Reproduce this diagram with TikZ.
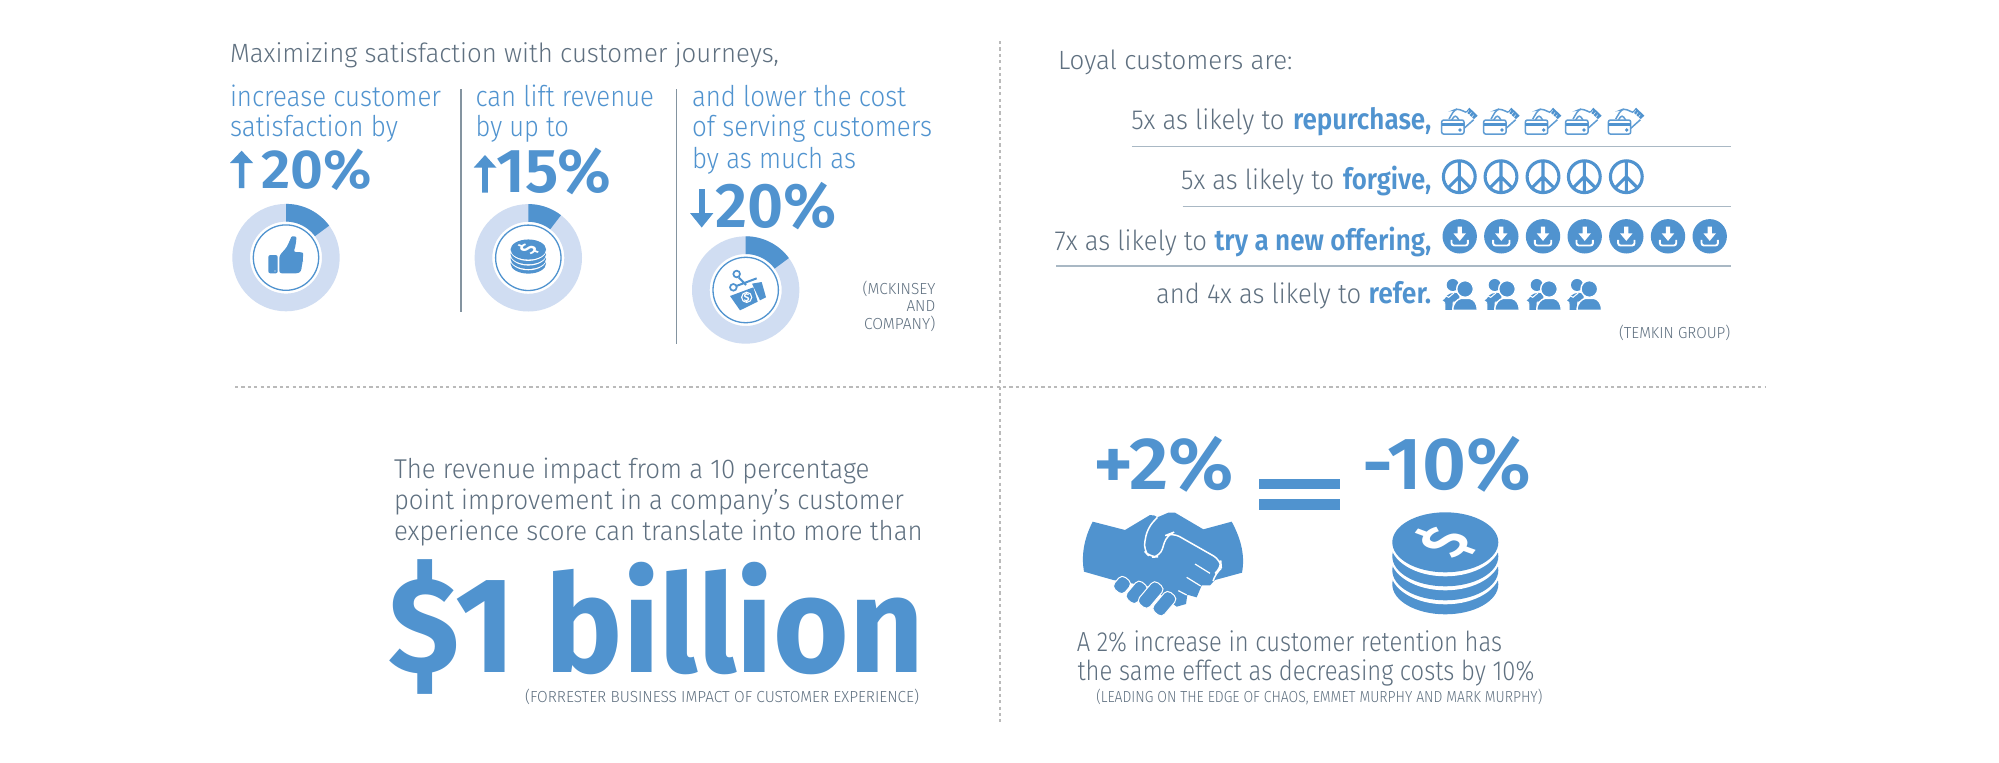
\documentclass[tikz,border=0pt]{standalone}
\usepackage{fontspec}
\usepackage{graphicx}
\setmainfont{Fira Sans}
\newfontfamily\fl{Fira Sans Light}
\newfontfamily\fb{Fira Sans Bold}
\newfontfamily\fs{Fira Sans SemiBold}
\definecolor{blu}{HTML}{5093CF}
\definecolor{lite}{HTML}{D0DDF2}
\definecolor{gry}{HTML}{5F7080}
\definecolor{rule}{HTML}{A9B8C4}
\definecolor{sepc}{HTML}{8494A0}
\definecolor{cardc}{HTML}{5F9CD3}
\tikzset{
  lab/.style={anchor=base west,inner sep=0pt,outer sep=0pt},
  dashrule/.style={draw=black!27,line width=.9pt,dash pattern=on 1.6pt off 1.6pt},
  seprule/.style={draw=sepc,line width=.75pt},
  hrule/.style={draw=rule,line width=.7pt},
}
% name, x-left, x-right, baseline, font, size(pt), colour, text
\newcommand\tb[8]{%
  \pgfmathsetlengthmacro\tw{(#3-#2)*0.5pt}%
  \node[lab,text=#7,font=#5\fontsize{#6}{#6}\selectfont] (#1) at (#2,#4) {\resizebox{\tw}{\height}{#8}};}
% ring: cx cy angle
\newcommand\ring[3]{%
  \begin{scope}[shift={(#1,#2)}]
    \fill[lite,even odd rule] (0,0) circle[radius=53.7] (0,0) circle[radius=36];
    \fill[blu] plot[domain=0:#3,samples=24] ({53.7*sin(\x)},{-53.7*cos(\x)}) -- plot[domain=#3:0,samples=24] ({36*sin(\x)},{-36*cos(\x)}) -- cycle;
    \draw[blu,line width=.65pt] (0,0) circle[radius=32.7];
  \end{scope}}
% coins: centre of top ellipse, scale
\newcommand\coins[3]{%
  \begin{scope}[shift={(#1,#2)},scale=#3]
    \fill[blu] (0,42) ellipse[x radius=53,y radius=30];
    \fill[white] (0,28) ellipse[x radius=55,y radius=34];
    \fill[blu] (0,28) ellipse[x radius=53,y radius=30];
    \fill[white] (0,14) ellipse[x radius=55,y radius=34];
    \fill[blu] (0,14) ellipse[x radius=53,y radius=30];
    \fill[white] (0,0) ellipse[x radius=55,y radius=34];
    \fill[blu] (0,0) ellipse[x radius=53,y radius=30];
  \end{scope}}
\newcommand\peace[2]{%
  \begin{scope}[shift={(#1,#2)}]
    \draw[blu,line width=1.55pt] (0,0) circle[radius=15.9] (0,-15.9) -- (0,15.9) (0,0) -- (-11.2,11.2) (0,0) -- (11.2,11.2);
  \end{scope}}
\newcommand\dload[2]{%
  \begin{scope}[shift={(#1,#2)}]
    \fill[blu] (0,0) circle[radius=17.2];
    \fill[white] (-2.1,-9.8) -- (2.1,-9.8) -- (2.1,-3) -- (6.3,-3) -- (0,4.6) -- (-6.3,-3) -- (-2.1,-3) -- cycle;
    \draw[white,line width=.95pt,rounded corners=1.2pt] (-8.2,3.6) -- (-8.2,9.2) -- (8.2,9.2) -- (8.2,3.6);
  \end{scope}}
\newcommand\card[1]{%
  \begin{scope}[shift={(#1,107.7)},x=0.16667pt,y=-0.16667pt]
    \draw[cardc,line width=.75pt,rounded corners=1pt] (2,37) rectangle (69,79);
    \fill[blu] (2,47) rectangle (69,56);
    \fill[blu] (57,67) circle[radius=5.5];
    \draw[cardc,line width=.75pt,rounded corners=1.5pt] (32,37) -- (43,21) -- (54,37) (24,34) -- (40,7) -- (50,3) -- (76,14) (69,62) -- (98,36);
    \fill[blu] (75,12) -- (85,0) -- (110,24) -- (99,34) -- cycle;
    \draw[white,line width=.2pt] (84,8) -- (76,18) (91,14) -- (83,24) (98,21) -- (90,31);
  \end{scope}}
\newcommand\people[1]{%
  \begin{scope}[shift={(#1,278.3)},x=0.16667pt,y=-0.16667pt]
    \fill[blu] (30,20) circle[radius=18];
    \fill[blu] (6,62) .. controls (12,46) and (30,40) .. (50,46) -- (50,70) -- (30,70) -- (30,95) -- (18,95) -- (18,75) -- (6,75) -- (18,60) -- cycle;
    \fill[blu] (0,66) -- (16,55) -- (32,72) -- (24,72) -- (24,95) -- (8,95) -- (8,72) -- cycle;
    \draw[white,line width=.5pt] (4,50) -- (18,57) -- (34,44);
    \draw[white,line width=.7pt,fill=blu] (67,32) circle[radius=25];
    \draw[white,line width=.7pt,fill=blu] (30,96) .. controls (30,74) and (44,62) .. (56,60) -- (80,60) .. controls (94,62) and (104,76) .. (104,96) -- cycle;
  \end{scope}}
\newcommand\finger[3]{%
  \begin{scope}[shift={(#1,#2)},rotate=50]
    \draw[white,line width=.5pt,fill=blu,rounded corners=2.4pt] (-#3,-21) rectangle (#3,21);
  \end{scope}}
\begin{document}
\begin{tikzpicture}[x=0.5pt,y=-0.5pt]
\useasboundingbox (0,0) rectangle (1999,762);
\fill[white] (0,0) rectangle (1999,762);
% dividers
\draw[dashrule] (235,386.7) -- (1765,386.7);
\draw[dashrule] (1000,41) -- (1000,721.5);
\draw[seprule] (461,89) -- (461,312);
\draw[seprule] (676.5,89) -- (676.5,344);
% top left texts
\tb{t1}{230}{779}{62.7}{\fl}{13.2}{gry}{Maximizing satisfaction with customer journeys,}
\tb{a1}{230}{441}{106}{\fl}{14.3}{blu}{increase customer}
\tb{a2}{230}{398}{136.7}{\fl}{14.3}{blu}{satisfaction by}
\tb{b1}{475.5}{654}{106}{\fl}{14.3}{blu}{can lift revenue}
\tb{b2}{475.5}{569}{136.7}{\fl}{14.3}{blu}{by up to}
\tb{c1}{692}{906}{106}{\fl}{14.3}{blu}{and lower the cost}
\tb{c2}{692}{932}{136.7}{\fl}{14.3}{blu}{of serving customers}
\tb{c3}{692}{856}{168}{\fl}{14.3}{blu}{by as much as}
\tb{p1}{261.5}{372}{188.3}{\fs}{27.5}{blu}{20\%}
\tb{p2}{496.5}{611}{192.7}{\fs}{31}{blu}{15\%}
\tb{p3}{715.4}{836.8}{227.7}{\fs}{31.5}{blu}{20\%}
% arrows
\fill[blu] (230,163) -- (241.6,150.7) -- (253.2,163) -- (244.4,163) -- (244.4,188) -- (238.8,188) -- (238.8,163) -- cycle;
\fill[blu] (473.6,167.7) -- (485,155) -- (496.5,167.7) -- (487.8,167.7) -- (487.8,192.7) -- (482.2,192.7) -- (482.2,167.7) -- cycle;
\fill[blu] (690,213) -- (713.4,213) -- (701.7,227.5) -- cycle;
\fill[blu] (698.9,189.3) rectangle (704.5,213);
% rings
\ring{286}{257.6}{53.5}
\ring{528.3}{257.8}{37.5}
\ring{745.7}{290}{53.5}
% thumb
\begin{scope}[shift={(215,190)},x=0.16667pt,y=-0.16667pt]
  \fill[blu,rounded corners=1pt] (160,195) rectangle (188,250);
  \fill[blu,rounded corners=1.2pt] (193,197) -- (215,172) -- (226,148) .. controls (230,138) and (244,138) .. (244,150) -- (240,175) -- (235,186) -- (260,186) -- (266,192) -- (262,208) -- (264,214) -- (260,228) -- (259,243) -- (250,250) -- (193,250) -- cycle;
  \fill[white] (180,243) circle[radius=1.8];
\end{scope}
% small coins
\coins{528.3}{249.5}{.335}
\begin{scope}[shift={(528.3,249.5)},cm={1,0,0,.7,(0,0)}]
  \node[transform shape,inner sep=0pt,text=white,font=\fs\fontsize{11.5}{12}\selectfont,rotate=62] (smalld) at (0,0) {\$};
\end{scope}
% scissors and bill
\begin{scope}[shift={(460,190)},x=0.16667pt,y=-0.16667pt]
  \fill[blu] (810,318) -- (880,292) -- (893,335) -- (840,361) -- cycle;
  \fill[blu] (876,281) -- (905,276) -- (918,322) -- (900,331) -- cycle;
  \fill[white] (860,322) circle[radius=17];
  \fill[blu] (860,322) circle[radius=13];
  \node[inner sep=0pt,text=white,font=\fs\fontsize{5.5}{6}\selectfont] (billd) at (860,322) {\$};
  \draw[blu,line width=.85pt] (830,252) circle[radius=10] (820,292) circle[radius=10];
  \draw[blu,line width=1pt] (836,262) -- (858,285) (829,288) -- (890,265);
\end{scope}
\tb{m1}{862.7}{935.3}{294}{\fl}{8}{gry}{(MCKINSEY}
\tb{m2}{906.5}{935.3}{311.7}{\fl}{8}{gry}{AND}
\tb{m3}{864}{935.3}{329}{\fl}{8}{gry}{COMPANY)}
% top right
\tb{l0}{1058}{1292.5}{69.3}{\fl}{13.2}{gry}{Loyal customers are:}
\tb{l1a}{1131.3}{1284.6}{129.3}{\fl}{13.8}{gry}{5x as likely to}
\tb{l1b}{1293}{1431.3}{129.3}{\fs}{14.6}{blu}{repurchase,}
\tb{l2a}{1181.2}{1334.3}{189.3}{\fl}{13.8}{gry}{5x as likely to}
\tb{l2b}{1343}{1431.3}{189.3}{\fs}{14.6}{blu}{forgive,}
\tb{l3a}{1054.7}{1207}{250}{\fl}{13.8}{gry}{7x as likely to}
\tb{l3b}{1214.5}{1431.3}{250}{\fs}{14.6}{blu}{try a new offering,}
\tb{l4a}{1156.2}{1361.2}{303.3}{\fl}{13.8}{gry}{and 4x as likely to}
\tb{l4b}{1368.5}{1431.3}{303.3}{\fs}{14.6}{blu}{refer.}
\tb{l5}{1619}{1730.3}{338.3}{\fl}{8}{gry}{(TEMKIN GROUP)}
\draw[hrule] (1131.8,146.3) -- (1730.8,146.3);
\draw[hrule] (1182.6,206.3) -- (1730.8,206.3);
\draw[hrule] (1056.2,266) -- (1730.8,266);
\foreach \q in {1441,1483,1524.7,1565,1607.7} {\card{\q}}
\foreach \q in {1459.3,1501,1543,1584.3,1626.3} {\peace{\q}{176.7}}
\foreach \q in {1459.7,1501.3,1543,1584.7,1626.3,1668,1709.7} {\dload{\q}{236.3}}
\foreach \q in {1442.7,1484.7,1526.7,1567} {\people{\q}}
% bottom left
\tb{r1}{394}{869.5}{478.3}{\fl}{13.6}{gry}{The revenue impact from a 10 percentage}
\tb{r2}{394}{904}{509.3}{\fl}{13.6}{gry}{point improvement in a company’s customer}
\tb{r3}{394}{922.6}{540.7}{\fl}{13.6}{gry}{experience score can translate into more than}
\tb{bn}{388.5}{924}{672}{\fb}{68}{blu}{\$1 billion}
\tb{r4}{525}{919}{702.3}{\fl}{8}{gry}{(FORRESTER BUSINESS IMPACT OF CUSTOMER EXPERIENCE)}
% bottom right
\tb{e1}{1093}{1234}{489.3}{\fs}{37}{blu}{+2\%}
\fill[blu] (1259.3,478.7) rectangle (1340,489.3);
\fill[blu] (1259.3,499.3) rectangle (1340,510);
\tb{e2}{1362}{1531}{489.3}{\fs}{37}{blu}{-10\%}
% handshake
\begin{scope}[shift={(1050,500)},x=0.16667pt,y=-0.16667pt]
  \fill[blu] (128,65) -- (225,90) -- (300,45) .. controls (310,44) and (318,48) .. (322,52) -- (355,38) -- (375,38) -- (460,88) -- (545,65) .. controls (575,120) and (585,170) .. (576,218) -- (495,240) -- (480,256) -- (455,256) -- (440,292) -- (412,284) -- (408,312) -- (380,320) -- (300,260) -- (190,240) -- (102,215) .. controls (94,170) and (100,120) .. (128,65) -- cycle;
  \draw[white,line width=.75pt,rounded corners=4pt] (322,52) -- (292,85) -- (280,150) -- (300,172) -- (330,170) -- (350,105) -- (368,98) -- (512,180) -- (514,205) -- (495,220) -- (490,240);
  \draw[white,line width=.6pt] (435,192) -- (480,220) (410,232) -- (452,258) (385,272) -- (410,285);
  \finger{216}{255}{24}
  \finger{260}{277}{34}
  \finger{302}{285}{42}
  \finger{343}{311}{38}
\end{scope}
% big coins
\coins{1445.3}{542.3}{1}
\begin{scope}[shift={(1445.3,542.3)},cm={1,0,0,.7,(0,0)}]
  \node[transform shape,inner sep=0pt,text=white,font=\fs\fontsize{33}{34}\selectfont,rotate=62] (bigd) at (0,0) {\$};
\end{scope}
\tb{f1}{1076.8}{1502}{651}{\fl}{13.8}{gry}{A 2\% increase in customer retention has}
\tb{f2}{1077.6}{1534.4}{680}{\fl}{13.8}{gry}{the same effect as decreasing costs by 10\%}
\tb{f3}{1096.3}{1542.3}{702.3}{\fl}{8}{gry}{(LEADING ON THE EDGE OF CHAOS, EMMET MURPHY AND MARK MURPHY)}
\end{tikzpicture}
\end{document}
